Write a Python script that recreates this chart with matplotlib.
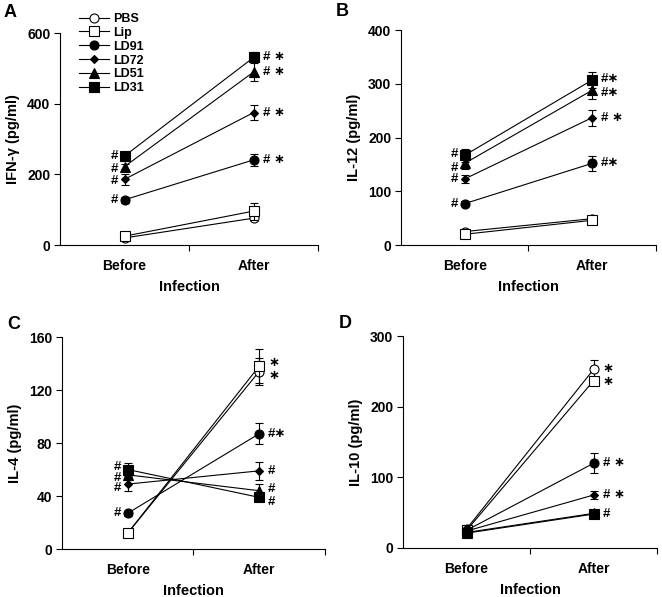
import numpy as np
import matplotlib
matplotlib.use('agg')
import matplotlib.pyplot as plt

plt.rcParams['font.family'] = ['Liberation Sans', 'DejaVu Sans']
plt.rcParams['font.weight'] = 'bold'

GROUPS = ['PBS', 'Lip', 'LD91', 'LD72', 'LD51', 'LD31']
PHASES = ['Before', 'After']

# IFN-gamma
ifn_before = [20, 25, 128, 186, 222, 252]
ifn_after = [76, 96, 241, 375, 490, 531]
ifn_err_before = [4, 4, 8, 15, 8, 6]
ifn_err_after = [6, 24, 18, 22, 27, 15]
ifn_sig_before = ['', '', '#', '#', '#', '#']
ifn_sig_after = ['', '', '# *', '# *', '# *', '# *']

# IL-12
il12_before = [25, 20, 77, 123, 152, 167]
il12_after = [49, 46, 152, 237, 288, 307]
il12_err_before = [3, 3, 4, 8, 10, 12]
il12_err_after = [3, 4, 14, 15, 17, 15]
il12_sig_before = ['', '', '#', '#', '#', '#']
il12_sig_after = ['', '', '#*', '# *', '#*', '#*']

# IL-4
il4_before = [12, 12, 27, 49, 56, 60]
il4_after = [134, 138, 87, 59, 44, 39]
il4_err_before = [2, 2, 2, 5, 4, 5]
il4_err_after = [10, 13, 8, 7, 5, 3]
il4_sig_before = ['', '', '#', '#', '#', '#']
il4_sig_after = ['*', '*', '#*', '#', '#', '#']

# IL-10
il10_before = [27, 25, 25, 24, 22, 21]
il10_after = [253, 237, 120, 75, 49, 48]
il10_err_before = [3, 3, 3, 3, 3, 3]
il10_err_after = [13, 5, 14, 5, 3, 3]
il10_sig_before = ['', '', '', '', '', '']
il10_sig_after = ['*', '*', '# *', '# *', '', '#']

STYLES = [dict(marker='o', mfc='white', ms=6.5),
          dict(marker='s', mfc='white', ms=6.5),
          dict(marker='o', mfc='black', ms=6.5),
          dict(marker='D', mfc='black', ms=4.5),
          dict(marker='^', mfc='black', ms=6.5),
          dict(marker='s', mfc='black', ms=6.5)]


def sig_text(s):
    # the figure uses a big, centred asterisk
    return s.replace('*', '\u2217')


def plot_panel(ax, ylabel, ymax, ystep, before, after, err_b, err_a,
               sig_b, sig_a, nudge_b=None, nudge_a=None, legend=False):
    x = np.array([0.5, 1.5])
    nudge_b = nudge_b or [0] * len(GROUPS)
    nudge_a = nudge_a or [0] * len(GROUPS)
    for i, name in enumerate(GROUPS):
        st = STYLES[i]
        y = [before[i], after[i]]
        ax.errorbar(x, y, yerr=[err_b[i], err_a[i]], fmt='none', ecolor='black',
                    elinewidth=0.8, capsize=3, capthick=0.8, zorder=2 + i)
        ax.plot(x, y, color='black', lw=0.8, marker=st['marker'], ms=st['ms'],
                mfc=st['mfc'], mec='black', mew=0.8, label=name, zorder=3 + i)
        if sig_b[i]:
            ax.annotate(sig_text(sig_b[i]), (x[0], before[i]), xytext=(-4.5, nudge_b[i]),
                        textcoords='offset points', ha='right', va='center',
                        fontsize=9.5, fontweight='bold')
        if sig_a[i]:
            ax.annotate(sig_text(sig_a[i]), (x[1], after[i]), xytext=(6.5, nudge_a[i]),
                        textcoords='offset points', ha='left', va='center',
                        fontsize=9.5, fontweight='bold')
    ax.set_xlim(0, 2)
    ax.set_ylim(0, ymax)
    ax.set_yticks(np.arange(0, ymax + 1, ystep))
    ax.set_xticks(x)
    ax.set_xticklabels(PHASES)
    ax.set_xticks([1, 2], minor=True)
    ax.tick_params(axis='x', which='major', length=0, pad=10, labelsize=10)
    ax.tick_params(axis='x', which='minor', length=4, width=0.8, direction='out')
    ax.tick_params(axis='y', length=4, width=0.8, direction='out', labelsize=10,
                   pad=3)
    for lab in ax.get_xticklabels() + ax.get_yticklabels():
        lab.set_fontweight('bold')
    ax.spines['top'].set_visible(False)
    ax.spines['right'].set_visible(False)
    ax.spines['left'].set_linewidth(0.8)
    ax.spines['bottom'].set_linewidth(0.8)
    ax.set_xlabel('Infection', fontsize=10.5, fontweight='bold', labelpad=5)
    ax.set_ylabel(ylabel, fontsize=10.5, fontweight='bold', labelpad=5)
    if legend:
        ax.legend(loc='upper left', bbox_to_anchor=(0.075, 1.095), frameon=False,
                  fontsize=9, handlelength=2.4, handletextpad=0.3,
                  labelspacing=0.15, borderpad=0, borderaxespad=0)


fig = plt.figure(figsize=(6.62, 5.97), dpi=100)
ax_a = fig.add_axes([0.0906, 0.5896, 0.390, 0.355])
ax_b = fig.add_axes([0.6057, 0.5896, 0.385, 0.360])
ax_c = fig.add_axes([0.0937, 0.0804, 0.397, 0.355])
ax_d = fig.add_axes([0.6088, 0.0821, 0.384, 0.355])

plot_panel(ax_a, 'IFN-γ (pg/ml)', 600, 200, ifn_before, ifn_after,
           ifn_err_before, ifn_err_after, ifn_sig_before, ifn_sig_after,
           nudge_b=[0, 0, 0, -1, -2, 0], legend=True)
plot_panel(ax_b, 'IL-12 (pg/ml)', 400, 100, il12_before, il12_after,
           il12_err_before, il12_err_after, il12_sig_before, il12_sig_after,
           nudge_b=[0, 0, 0, 0, -3, 1], nudge_a=[0, 0, 0, 0, -2, 1])
plot_panel(ax_c, 'IL-4 (pg/ml)', 160, 40, il4_before, il4_after,
           il4_err_before, il4_err_after, il4_sig_before, il4_sig_after,
           nudge_b=[0, 0, 0, -3, -2.5, 2], nudge_a=[-3, 2, 0, 0, 1, -3])
plot_panel(ax_d, 'IL-10 (pg/ml)', 300, 100, il10_before, il10_after,
           il10_err_before, il10_err_after, il10_sig_before, il10_sig_after,
           nudge_a=[0, -1, 0, 0, 0, 0])

# panel letters, placed in figure pixels
W, H = 662.0, 597.0
for letter, px, py in [('A', 4, 17), ('B', 336, 16), ('C', 7, 329), ('D', 339, 328)]:
    fig.text(px / W, 1 - py / H, letter, fontsize=13, fontweight='bold',
             ha='left', va='baseline')

fig.savefig('out.png', dpi=100)
